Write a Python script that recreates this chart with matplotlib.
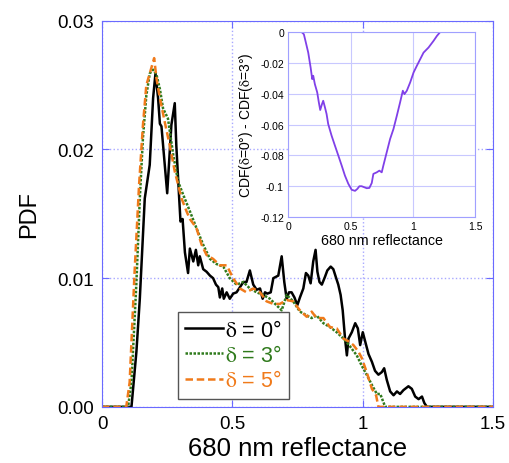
import matplotlib.pyplot as plt
import numpy as np

# delta = 0 deg (black, solid)
x0 = [0.0, 0.113, 0.132, 0.145, 0.164, 0.183, 0.196, 0.205, 0.215, 0.222, 0.228, 0.250,
      0.266, 0.279, 0.285, 0.296, 0.301, 0.309, 0.318, 0.330, 0.337, 0.350, 0.360, 0.369,
      0.375, 0.388, 0.401, 0.414, 0.426, 0.437, 0.446, 0.452, 0.461, 0.467, 0.478, 0.490,
      0.503, 0.516, 0.529, 0.542, 0.554, 0.567, 0.580, 0.593, 0.606, 0.616, 0.625, 0.634,
      0.647, 0.657, 0.676, 0.689, 0.699, 0.708, 0.717, 0.727, 0.738, 0.749, 0.759, 0.772,
      0.782, 0.791, 0.800, 0.810, 0.819, 0.826, 0.834, 0.843, 0.855, 0.864, 0.877, 0.887,
      0.898, 0.906, 0.915, 0.923, 0.932, 0.939, 0.945, 0.958, 0.971, 0.981, 0.990, 1.000,
      1.009, 1.022, 1.035, 1.047, 1.060, 1.073, 1.082, 1.092, 1.105, 1.118, 1.131, 1.143,
      1.156, 1.175, 1.188, 1.201, 1.214, 1.227, 1.236, 1.246, 1.5]
y0 = [0.0, 0.0, 0.0043, 0.0084, 0.0162, 0.0188, 0.0240, 0.0259, 0.0240, 0.0220, 0.0218, 0.0166,
      0.0219, 0.0236, 0.0203, 0.0162, 0.0144, 0.0146, 0.0120, 0.0104, 0.0123, 0.0113, 0.0122, 0.0110,
      0.0117, 0.0107, 0.0105, 0.0102, 0.0100, 0.0095, 0.0093, 0.0085, 0.0092, 0.0084, 0.0089, 0.0084,
      0.0088, 0.0089, 0.0093, 0.0097, 0.0097, 0.0106, 0.0095, 0.0091, 0.0092, 0.0084, 0.0089, 0.0088,
      0.0089, 0.0100, 0.0102, 0.0117, 0.0097, 0.0084, 0.0089, 0.0089, 0.0085, 0.0079, 0.0085, 0.0092,
      0.0104, 0.0102, 0.0096, 0.0113, 0.0122, 0.0105, 0.0097, 0.0095, 0.0101, 0.0106, 0.0109, 0.0107,
      0.0100, 0.0095, 0.0087, 0.0075, 0.0053, 0.0040, 0.0053, 0.0058, 0.0065, 0.0061, 0.0048, 0.0058,
      0.0051, 0.0041, 0.0035, 0.0028, 0.0025, 0.0027, 0.0030, 0.0021, 0.0012, 0.0009, 0.0012, 0.0010,
      0.0013, 0.0016, 0.0014, 0.0008, 0.0006, 0.0008, 0.0003, 0.0, 0.0]

# delta = 3 deg (green, dotted)
x3 = [0.0, 0.100, 0.113, 0.132, 0.145, 0.157, 0.170, 0.183, 0.196, 0.209, 0.222, 0.234,
      0.253, 0.273, 0.292, 0.311, 0.337, 0.362, 0.388, 0.414, 0.439, 0.465, 0.490, 0.516,
      0.542, 0.567, 0.593, 0.618, 0.644, 0.669, 0.689, 0.708, 0.733, 0.759, 0.785, 0.804,
      0.823, 0.849, 0.874, 0.900, 0.926, 0.951, 0.977, 0.996, 1.015, 1.035, 1.054, 1.067,
      1.086, 1.5]
y3 = [0.0, 0.0, 0.0019, 0.0097, 0.0162, 0.0209, 0.0242, 0.0259, 0.0262, 0.0258, 0.0247, 0.0232,
      0.0224, 0.0196, 0.0175, 0.0165, 0.0152, 0.0139, 0.0126, 0.0115, 0.0111, 0.0109, 0.0100, 0.0095,
      0.0097, 0.0092, 0.0089, 0.0087, 0.0084, 0.0079, 0.0075, 0.0087, 0.0082, 0.0074, 0.0071, 0.0069,
      0.0071, 0.0065, 0.0062, 0.0058, 0.0053, 0.0047, 0.0040, 0.0032, 0.0025, 0.0017, 0.0010, 0.0010,
      0.0, 0.0]

# delta = 5 deg (orange, dashed)
x5 = [0.0, 0.093, 0.106, 0.125, 0.142, 0.157, 0.170, 0.183, 0.200, 0.209, 0.222, 0.241,
      0.260, 0.279, 0.305, 0.324, 0.337, 0.362, 0.382, 0.401, 0.426, 0.452, 0.478, 0.503,
      0.529, 0.554, 0.580, 0.606, 0.631, 0.657, 0.682, 0.708, 0.733, 0.759, 0.785, 0.804,
      0.823, 0.849, 0.874, 0.900, 0.926, 0.945, 0.964, 0.983, 0.996, 1.015, 1.035, 1.051,
      1.060, 1.5]
y5 = [0.0, 0.0, 0.0019, 0.0105, 0.0172, 0.0219, 0.0250, 0.0259, 0.0271, 0.0255, 0.0240, 0.0221,
      0.0203, 0.0183, 0.0162, 0.0152, 0.0146, 0.0139, 0.0126, 0.0118, 0.0115, 0.0110, 0.0110, 0.0100,
      0.0092, 0.0089, 0.0092, 0.0089, 0.0082, 0.0080, 0.0080, 0.0083, 0.0082, 0.0075, 0.0070, 0.0074,
      0.0069, 0.0069, 0.0062, 0.0061, 0.0053, 0.0051, 0.0048, 0.0043, 0.0038, 0.0027, 0.0014, 0.0009,
      0.0, 0.0]

# inset: CDF(0) - CDF(3)
xd = [0.0, 0.107, 0.126, 0.142, 0.161, 0.180, 0.193, 0.201, 0.214, 0.233, 0.246, 0.257,
      0.271, 0.281, 0.295, 0.308, 0.321, 0.348, 0.375, 0.402, 0.429, 0.455, 0.482, 0.509,
      0.536, 0.555, 0.571, 0.589, 0.608, 0.630, 0.651, 0.670, 0.683, 0.710, 0.731, 0.750,
      0.763, 0.790, 0.817, 0.844, 0.871, 0.897, 0.919, 0.932, 0.951, 0.978, 1.005, 1.031,
      1.058, 1.085, 1.125, 1.165, 1.192, 1.219, 1.5]
yd = [0.0, 0.0, -0.0015, -0.0069, -0.0134, -0.0230, -0.0306, -0.0284, -0.0338, -0.0392, -0.0457, -0.0506,
      -0.0468, -0.0446, -0.0489, -0.0532, -0.0597, -0.0672, -0.0737, -0.0801, -0.0866, -0.0931, -0.0984, -0.1023,
      -0.1030, -0.1017, -0.1000, -0.1000, -0.1006, -0.1013, -0.1011, -0.0979, -0.0920, -0.0910, -0.0899, -0.0910,
      -0.0866, -0.0780, -0.0694, -0.0629, -0.0543, -0.0457, -0.0381, -0.0403, -0.0381, -0.0327, -0.0263, -0.0220,
      -0.0177, -0.0134, -0.0101, -0.0058, -0.0026, 0.0, 0.0]

plt.rcParams['font.family'] = ['Liberation Sans', 'DejaVu Sans']
plt.rcParams['mathtext.fontset'] = 'stix'
spine_col = '#6a6aff'
grid_col = '#a8a8ff'
d = r'$\mathrm{\delta}$'

fig = plt.figure(figsize=(5.1, 4.64), dpi=100)
ax = fig.add_axes([0.2, 0.121, 0.767, 0.832])

ax.plot(x0, y0, color='black', lw=1.8, label=d + ' = 0°')
ax.plot(x3, y3, color='#2f7a1c', lw=1.8, ls=(0, (1, 0.6)), label=d + ' = 3°')
ax.plot(x5, y5, color='#f07a1a', lw=1.8, ls=(0, (3, 1.5)), label=d + ' = 5°')

ax.set_xlim(0, 1.5)
ax.set_ylim(0, 0.03)
ax.set_xticks([0, 0.5, 1, 1.5])
ax.set_xticklabels(['0', '0.5', '1', '1.5'])
ax.set_yticks([0, 0.01, 0.02, 0.03])
ax.set_yticklabels(['0.00', '0.01', '0.02', '0.03'])
ax.tick_params(direction='in', length=5, color=spine_col, labelsize=13.5,
               top=True, right=True, pad=6)
for s in ax.spines.values():
    s.set_color(spine_col)
ax.grid(True, color=grid_col, ls=':', lw=1.0)
ax.set_xlabel('680 nm reflectance', fontsize=18.5, labelpad=3)
ax.set_ylabel('PDF', fontsize=17, labelpad=12)

leg = ax.legend(loc='lower left', bbox_to_anchor=(0.194, 0.021), borderaxespad=0,
                fancybox=False, edgecolor='#555555', framealpha=1,
                handlelength=1.75, handletextpad=0.1, borderpad=0.35,
                labelspacing=0.2, prop={'size': 15.5})
leg.get_frame().set_linewidth(1.0)
for txt, c in zip(leg.get_texts(), ['black', '#2f7a1c', '#f07a1a']):
    txt.set_color(c)

# inset
ins = fig.add_axes([0.565, 0.530, 0.367, 0.399])
ins.plot(xd, yd, color='#8040e8', lw=1.3)
ins.set_xlim(0, 1.5)
ins.set_ylim(-0.12, 0)
ins.set_xticks([0, 0.5, 1, 1.5])
ins.set_xticklabels(['0', '0.5', '1', '1.5'])
ins.set_yticks([0, -0.02, -0.04, -0.06, -0.08, -0.1, -0.12])
ins.set_yticklabels(['0', '-0.02', '-0.04', '-0.06', '-0.08', '-0.1', '-0.12'])
ins.tick_params(direction='in', length=0, labelsize=7.5, pad=3)
for s in ins.spines.values():
    s.set_color('#a0a0ff')
ins.grid(True, color='#c8c8ff', lw=0.8)
ins.set_xlabel('680 nm reflectance', fontsize=10.3, labelpad=1)
ins.set_ylabel('CDF(' + d + '=0°) - CDF(' + d + '=3°)', fontsize=10, labelpad=4)

fig.savefig('out.png', dpi=100)
